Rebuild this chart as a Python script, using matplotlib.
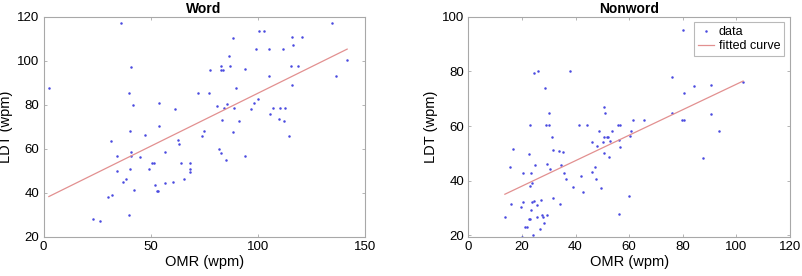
#!/usr/bin/env python3
import matplotlib
matplotlib.use('Agg')
import numpy as np
import matplotlib.pyplot as plt

# Word panel data (OMR wpm, LDT wpm)
word_omr = [2.5, 36.2, 40.7, 40.1, 42.0, 40.6, 40.7, 41.0, 40.4, 40.1,
            31.6, 34.2, 34.5, 36.9, 38.7, 42.1, 32.2, 30.2, 23.2, 26.4,
            47.3, 45.0, 49.4, 50.5, 51.8, 54.1, 54.1, 51.9, 52.9, 53.4,
            56.5, 56.6, 61.3, 60.3, 63.0, 63.2, 64.1, 65.5, 68.4, 68.6,
            68.3, 72.3, 73.9, 74.8, 77.4, 77.7, 80.9, 81.8, 83.0, 83.0,
            82.9, 83.7, 83.4, 84.2, 85.4, 85.7, 86.8, 87.1, 88.4, 88.4,
            88.8, 89.7, 91.1, 94.2, 94.2, 96.7, 98.3, 99.4, 100.2, 100.8,
            103.0, 105.1, 105.1, 105.9, 107.2, 110.1, 110.6, 111.7, 112.4, 113.0,
            114.6, 115.4, 116.0, 116.2, 116.7, 118.7, 120.8, 134.7, 136.4, 141.8]
word_ldt = [87.5, 117.0, 97.3, 85.2, 80.0, 68.2, 58.3, 56.8, 50.8, 30.0,
            63.6, 56.8, 50.0, 45.0, 46.4, 41.2, 38.8, 38.0, 28.0, 27.1,
            66.0, 56.4, 50.8, 53.6, 53.6, 81.0, 70.2, 43.5, 40.9, 40.9,
            44.5, 58.5, 78.0, 44.8, 64.0, 62.0, 53.6, 46.4, 53.6, 50.9,
            49.4, 85.2, 65.8, 67.9, 85.2, 95.6, 79.4, 60.0, 58.2, 97.4,
            95.6, 95.6, 73.0, 78.6, 55.0, 80.2, 102.3, 97.4, 110.2, 67.7,
            78.6, 87.7, 72.6, 96.1, 56.8, 78.0, 81.0, 105.3, 82.6, 113.5,
            113.5, 93.0, 105.3, 75.6, 78.6, 73.5, 78.6, 105.3, 72.6, 78.6,
            65.8, 97.4, 110.8, 89.0, 107.4, 97.4, 110.8, 117.0, 92.9, 100.2]
word_fit = [0.4817, 37.0]  # slope, intercept

# Nonword panel data
nonword_omr = [13.6, 15.5, 16.0, 16.5, 19.5, 20.3, 20.4, 19.9, 21.0, 22.0,
               22.6, 22.9, 22.5, 23.1, 23.1, 23.4, 23.4, 23.6, 23.9, 24.3,
               24.3, 24.0, 24.9, 25.5, 25.6, 26.1, 26.9, 27.2, 27.4, 27.7,
               28.4, 28.5, 28.9, 29.2, 29.4, 30.0, 30.1, 30.3, 31.3, 31.5,
               31.6, 33.7, 34.1, 34.7, 35.2, 35.8, 36.3, 38.1, 39.2, 41.3,
               42.0, 42.7, 44.3, 46.3, 46.3, 47.3, 47.6, 48.1, 48.9, 49.6,
               50.2, 50.5, 50.6, 50.9, 50.7, 51.6, 52.2, 52.5, 53.0, 53.7,
               55.8, 56.1, 56.2, 56.7, 56.7, 59.8, 60.3, 60.8, 61.4, 65.5,
               75.9, 76.2, 80.1, 79.9, 80.6, 80.7, 84.2, 87.8, 90.5, 90.5,
               93.5, 102.6]
nonword_ldt = [26.7, 45.1, 31.3, 51.6, 30.2, 32.0, 42.9, 19.5, 22.9, 23.0,
               49.8, 60.2, 26.1, 26.1, 38.1, 42.9, 29.4, 39.1, 32.0, 79.4,
               32.6, 20.0, 45.6, 30.9, 26.7, 80.1, 22.1, 33.0, 27.3, 26.7,
               24.6, 73.8, 60.2, 46.0, 27.3, 60.2, 64.7, 44.2, 56.1, 51.3,
               33.6, 50.7, 31.5, 45.7, 50.4, 42.8, 40.7, 80.1, 37.6, 60.2,
               41.6, 35.7, 60.2, 54.3, 43.1, 44.9, 40.6, 52.8, 58.1, 37.1,
               54.2, 55.8, 67.1, 64.6, 50.1, 56.1, 56.1, 48.6, 54.5, 58.3,
               60.2, 54.9, 27.9, 60.2, 52.2, 34.2, 56.2, 58.1, 62.2, 62.2,
               64.7, 78.1, 95.0, 62.2, 62.2, 72.1, 74.5, 48.1, 75.1, 64.3,
               58.1, 76.1]
nonword_fit = [0.466, 28.66]

plt.rcParams['font.family'] = ['Liberation Sans', 'DejaVu Sans']

fig = plt.figure(figsize=(8.03, 2.76), dpi=100)
ax1 = fig.add_axes([0.0542, 0.143, 0.400, 0.796])
ax2 = fig.add_axes([0.5834, 0.143, 0.400, 0.796])

gray = '#a8a8a8'
dot_color = '#4a4ae0'
fit_color = '#e29090'


def draw(ax, x, y, fit, title, xlim, ylim, xticks, yticks):
    x = np.array(x)
    ax.plot(x, y, '.', color=dot_color, markersize=1.6, label='data')
    xs = np.array([x.min(), x.max()])
    ax.plot(xs, fit[0] * xs + fit[1], '-', color=fit_color, lw=0.9, label='fitted curve')
    ax.set_xlim(xlim)
    ax.set_ylim(ylim)
    ax.set_xticks(xticks)
    ax.set_yticks(yticks)
    ax.set_title(title, fontsize=10, fontweight='bold', pad=3)
    ax.set_xlabel('OMR (wpm)', fontsize=10.5, labelpad=2)
    ax.set_ylabel('LDT (wpm)', fontsize=10.5, labelpad=3)
    ax.tick_params(direction='in', length=2.5, width=0.6, color=gray,
                   labelsize=9.5, top=True, right=True, pad=3)
    for s in ax.spines.values():
        s.set_color(gray)
        s.set_linewidth(0.8)


draw(ax1, word_omr, word_ldt, word_fit, 'Word', (0, 150), (20, 120),
     [0, 50, 100, 150], [20, 40, 60, 80, 100, 120])
draw(ax2, nonword_omr, nonword_ldt, nonword_fit, 'Nonword', (0, 120), (19.5, 100),
     [0, 20, 40, 60, 80, 100, 120], [20, 40, 60, 80, 100])

leg = ax2.legend(loc='upper right', fontsize=9, frameon=True, fancybox=False,
                 handlelength=1.3, handletextpad=0.4, borderpad=0.3,
                 labelspacing=0.15, borderaxespad=0.45, markerscale=1.0)
leg.get_frame().set_edgecolor(gray)
leg.get_frame().set_linewidth(0.8)

plt.savefig('out.png', dpi=100)
